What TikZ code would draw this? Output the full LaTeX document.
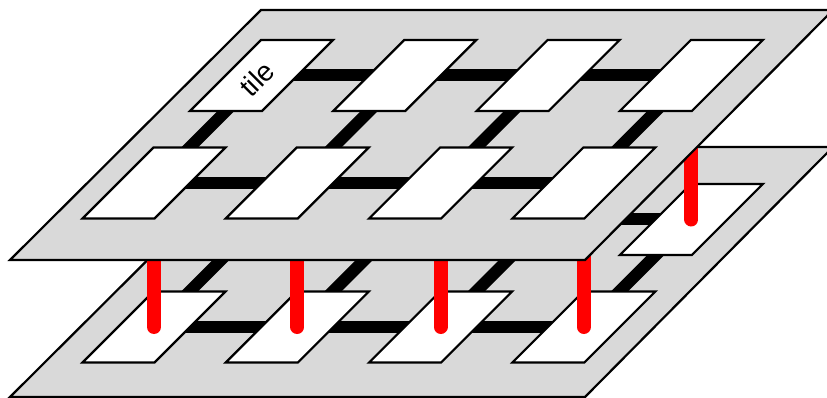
\documentclass[tikz,border=0pt]{standalone}
\usepackage{fontspec}
\setmainfont{Liberation Sans}
\definecolor{planegray}{HTML}{D9D9D9}
\definecolor{linkred}{HTML}{FF0000}
\newcommand{\mytile}[1]{\path[tilebox] (#1) ++(-71.5,35.5) -- ++(72,0) -- ++(71,-71) -- ++(-72,0) -- cycle;}
\begin{document}
\begin{tikzpicture}[x=1pt,y=-1pt,
  plane/.style={fill=planegray,draw=black,line width=2.2pt},
  tilebox/.style={fill=white,draw=black,line width=2.2pt},
  link/.style={line width=12pt,draw=black},
  via/.style={line width=14pt,draw=linkred,line cap=round}]
\useasboundingbox (0,0) rectangle (827,398);
% tile centres
\foreach \L/\dy in {T/0,B/144}{
  \foreach \c in {1,...,4}{
    \coordinate (\L b\c) at ({261.5+143.3*(\c-1)},{75.5+\dy});
    \coordinate (\L f\c) at ({154+143.3*(\c-1)},{183+\dy});
  }
}
% ---- bottom layer
\path[plane] (261,147) -- (833,147) -- (585,397) -- (10,397) -- cycle;
\foreach \c [evaluate=\c as \n using int(\c+1)] in {1,2,3}{
  \draw[link] (Bb\c) -- (Bb\n);
  \draw[link] (Bf\c) -- (Bf\n);
}
\foreach \c in {1,...,4}{\draw[link] (Bb\c) -- (Bf\c);}
\foreach \c in {1,...,4}{\mytile{Bb\c}\mytile{Bf\c}}
% ---- vertical links
\foreach \c in {1,...,4}{\draw[via] (Bf\c) -- (Tf\c);}
\draw[via] (Bb4) -- (Tb4);
% ---- top layer
\path[plane] (261,10) -- (833,10) -- (585,260) -- (10,260) -- cycle;
\foreach \c [evaluate=\c as \n using int(\c+1)] in {1,2,3}{
  \draw[link] (Tb\c) -- (Tb\n);
  \draw[link] (Tf\c) -- (Tf\n);
}
\foreach \c in {1,...,4}{\draw[link] (Tb\c) -- (Tf\c);}
\foreach \c in {1,...,4}{\mytile{Tb\c}\mytile{Tf\c}}
\node[rotate=45,font=\fontsize{28}{28}\selectfont,inner sep=0pt] (lbl) at (257,79) {tile};
\end{tikzpicture}
\end{document}
